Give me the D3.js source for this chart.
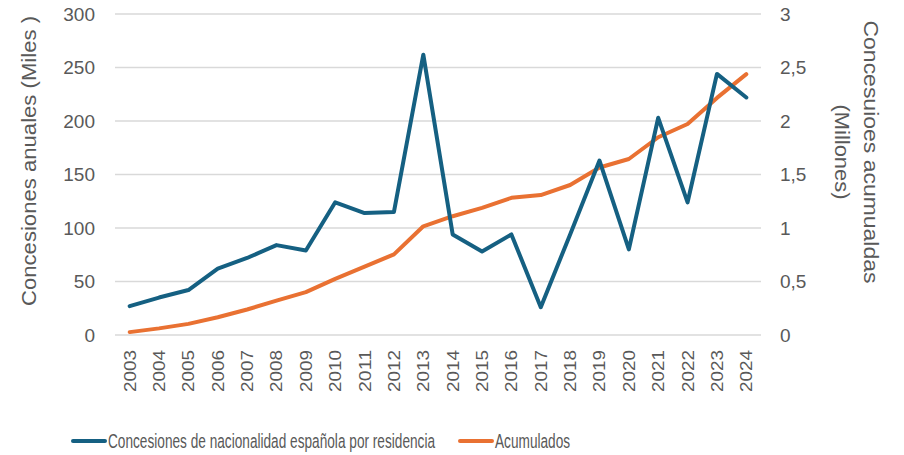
<!DOCTYPE html>
<html><head><meta charset="utf-8">
<script src="https://cdn.jsdelivr.net/npm/d3@7"></script>
<style>body{margin:0;background:#fff}svg{display:block}</style>
</head><body>
<svg id="c" width="904" height="455"></svg>
<script>
const years = ["2003","2004","2005","2006","2007","2008","2009","2010","2011","2012","2013","2014","2015","2016","2017","2018","2019","2020","2021","2022","2023","2024"];
const annual = [27,35,42,62,72,84,79,124,114,115,262,94,78,94,26,94,163,80,203,124,244,222];
const cumulative = [0.027,0.062,0.104,0.166,0.238,0.322,0.401,0.525,0.639,0.754,1.016,1.11,1.188,1.282,1.308,1.402,1.565,1.645,1.848,1.972,2.216,2.438];
const leftTicks = [0,50,100,150,200,250,300];
const rightTicks = [0,0.5,1,1.5,2,2.5,3];
const seriesNames = ["Concesiones de nacionalidad española por residencia","Acumulados"];
const colors = ["#156082","#E97132"];

const svg = d3.select("#c");
const L = 115, R = 761, T = 14, B = 335;
const x = d3.scaleBand().domain(years).range([L, R]);
const yL = d3.scaleLinear().domain([0,300]).range([B, T]);
const yR = d3.scaleLinear().domain([0,3]).range([B, T]);
const txt = "#595959";
const font = "Liberation Sans, Arial, sans-serif";

// gridlines
svg.append("g").selectAll("line").data(leftTicks).join("line")
  .attr("x1", L).attr("x2", R).attr("y1", d=>yL(d)).attr("y2", d=>yL(d))
  .attr("stroke", "#d9d9d9").attr("stroke-width", 1.3);

// left axis
const gl = svg.append("g").attr("transform", `translate(${L},0)`)
  .call(d3.axisLeft(yL).tickValues(leftTicks).tickSize(0).tickPadding(20));
gl.select(".domain").remove();
gl.selectAll("text").attr("fill", txt).attr("font-size", 19).attr("font-family", font);

// right axis
const fmt = d => String(d).replace(".", ",");
const gr = svg.append("g").attr("transform", `translate(${R},0)`)
  .call(d3.axisRight(yR).tickValues(rightTicks).tickSize(0).tickPadding(19).tickFormat(fmt));
gr.select(".domain").remove();
gr.selectAll("text").attr("fill", txt).attr("font-size", 19).attr("font-family", font);

// x axis
const gx = svg.append("g").attr("transform", `translate(0,${B})`)
  .call(d3.axisBottom(x).tickSize(0).tickPadding(0));
gx.select(".domain").remove();
gx.selectAll("text").attr("fill", txt).attr("font-size", 17).attr("font-family", font)
  .attr("text-anchor", "end").attr("dy", "0.35em")
  .attr("textLength", 42).attr("lengthAdjust", "spacingAndGlyphs")
  .attr("transform", "translate(0,15) rotate(-90)").attr("x", 0).attr("y", 0);

// lines
const lineL = d3.line().x((d,i)=>x(years[i]) + x.bandwidth()/2).y(d=>yL(d));
const lineR = d3.line().x((d,i)=>x(years[i]) + x.bandwidth()/2).y(d=>yR(d));
svg.append("path").datum(cumulative).attr("d", lineR).attr("fill","none")
  .attr("stroke", colors[1]).attr("stroke-width", 4).attr("stroke-linejoin","round").attr("stroke-linecap","round");
svg.append("path").datum(annual).attr("d", lineL).attr("fill","none")
  .attr("stroke", colors[0]).attr("stroke-width", 4).attr("stroke-linejoin","round").attr("stroke-linecap","round");

// axis titles
svg.append("text").attr("transform", "translate(36,161) rotate(-90)")
  .attr("text-anchor","middle").attr("fill", txt).attr("font-size", 21).attr("font-family", font)
  .attr("textLength", 290).attr("lengthAdjust", "spacingAndGlyphs")
  .text("Concesiones anuales (Miles )");
const rt = svg.append("text").attr("transform", "translate(864,152) rotate(90)")
  .attr("text-anchor","middle").attr("fill", txt).attr("font-size", 21).attr("font-family", font);
rt.append("tspan").attr("x",0).attr("dy",0).attr("textLength", 263).attr("lengthAdjust","spacingAndGlyphs").text("Concesuioes acumualdas");
rt.append("tspan").attr("x",0).attr("dy","1.4em").attr("textLength", 95).attr("lengthAdjust","spacingAndGlyphs").text("(Millones)");

// legend
const legX = [73, 460];
const lg = svg.append("g").selectAll("g").data(seriesNames).join("g")
  .attr("transform", (d,i)=>`translate(${legX[i]},441)`);
lg.append("line").attr("x1",0).attr("x2",32).attr("y1",0).attr("y2",0)
  .attr("stroke",(d,i)=>colors[i]).attr("stroke-width",4).attr("stroke-linecap","round");
lg.append("text").attr("transform","translate(35,0) scale(0.70,1)").attr("dy","0.35em")
  .attr("fill", txt).attr("font-size", 19.5).attr("font-family", font)
  .text(d=>d);
</script>
</body></html>
